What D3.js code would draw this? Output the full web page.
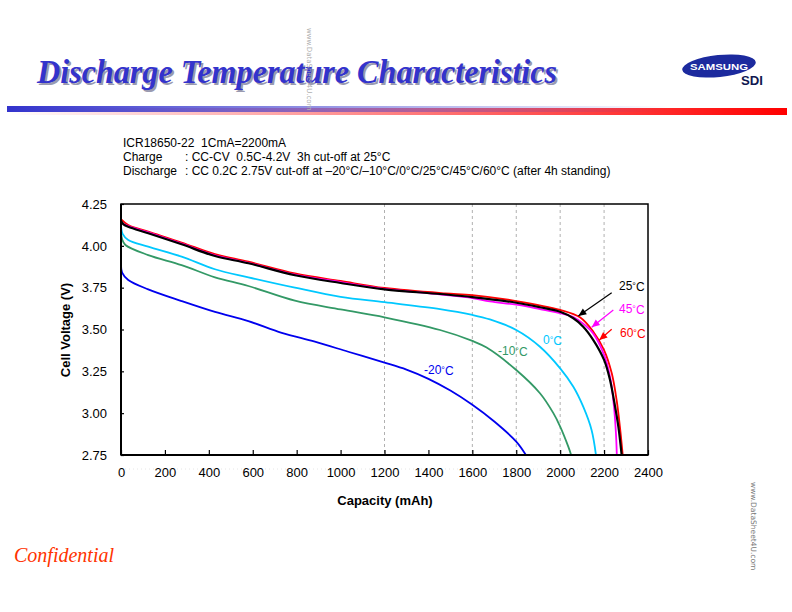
<!DOCTYPE html>
<html><head><meta charset="utf-8">
<script src="https://cdn.jsdelivr.net/npm/d3@7"></script>
<style>body{margin:0;background:#fff}svg{display:block}</style>
</head><body>
<svg id="c" width="792" height="612"></svg>
<script>
// ---- data ----
const xTicks = [0,200,400,600,800,1000,1200,1400,1600,1800,2000,2200,2400];
const yTicks = [2.75,3.00,3.25,3.50,3.75,4.00,4.25];
const gridX = [1200,1600,1800,2000,2200];
const seriesNames = ["60°C","45°C","25°C","0°C","-10°C","-20°C"];
const cap60 = [0,33,124,276,428,580,792,1000,1200,1475,1600,1800,2000,2090,2151,2200,2235,2257,2272,2285];
const v60   = [4.16,4.125,4.085,4.02,3.95,3.905,3.835,3.79,3.748,3.716,3.706,3.67,3.617,3.573,3.487,3.377,3.238,3.079,2.92,2.75];
const cap45 = [0,33,124,276,428,580,792,1000,1200,1450,1600,1680,1800,1908,2000,2060,2105,2151,2200,2227,2245,2254,2258];
const v45   = [4.14,4.118,4.08,4.013,3.943,3.898,3.828,3.783,3.743,3.71,3.688,3.668,3.648,3.622,3.598,3.575,3.535,3.475,3.348,3.218,3.04,2.88,2.75];
const cap25 = [0,10,33,124,276,428,580,792,1000,1200,1453,1600,1800,1908,2000,2060,2105,2151,2200,2227,2250,2265,2280];
const v25   = [4.15,4.13,4.114,4.075,4.009,3.939,3.896,3.824,3.778,3.74,3.712,3.694,3.66,3.633,3.606,3.567,3.517,3.437,3.318,3.198,3.04,2.92,2.75];
const cap0  = [0,8,33,124,276,428,580,792,1000,1200,1453,1600,1680,1800,1908,2000,2060,2105,2143,2163];
const v0    = [4.12,4.07,4.035,3.995,3.935,3.86,3.812,3.75,3.695,3.663,3.622,3.587,3.56,3.497,3.397,3.268,3.158,3.039,2.90,2.75];
const capM10= [0,5,20,124,276,428,580,792,1000,1200,1453,1600,1665,1800,1908,1969,2000,2037,2050];
const vM10  = [4.08,4.04,4.005,3.945,3.885,3.812,3.76,3.672,3.62,3.573,3.497,3.432,3.392,3.258,3.119,3.0,2.92,2.80,2.75];
const capM20= [0,5,33,124,276,428,580,732,883,1035,1200,1300,1400,1500,1600,1700,1800,1844];
const vM20  = [3.885,3.84,3.796,3.74,3.67,3.605,3.55,3.48,3.427,3.367,3.302,3.26,3.205,3.135,3.05,2.95,2.83,2.75];
const seriesColors = ["#ff0000","#ff00ff","#000000","#00c8ff","#339966","#0000ee"];

const svg = d3.select("#c");
const L=121,R=648,T=204,B=455;
const x = d3.scaleLinear().domain([0,2400]).range([L,R]);
const y = d3.scaleLinear().domain([2.75,4.25]).range([B,T]);

// ---- header ----
const defs = svg.append("defs");
const gb = defs.append("linearGradient").attr("id","gb");
gb.append("stop").attr("offset","0%").attr("stop-color","#3333cc");
gb.append("stop").attr("offset","85%").attr("stop-color","#3333cc").attr("stop-opacity",0);
const gr = defs.append("linearGradient").attr("id","gr");
gr.append("stop").attr("offset","0%").attr("stop-color","#ff0000").attr("stop-opacity",0);
gr.append("stop").attr("offset","100%").attr("stop-color","#ff0000");
svg.append("rect").attr("x",7).attr("y",108).attr("width",780).attr("height",7).attr("fill","url(#gr)");
svg.append("rect").attr("x",7).attr("y",106).attr("width",780).attr("height",6).attr("fill","url(#gb)");

const titleText = "Discharge Temperature Characteristics";
svg.append("text").attr("x",39).attr("y",85).attr("font-family","'Liberation Serif',serif")
  .attr("font-style","italic").attr("font-weight","bold").attr("font-size",33)
  .attr("textLength",520).attr("lengthAdjust","spacingAndGlyphs").attr("fill","#9a9ab0").text(titleText);
svg.append("text").attr("x",37).attr("y",83).attr("font-family","'Liberation Serif',serif")
  .attr("font-style","italic").attr("font-weight","bold").attr("font-size",33)
  .attr("textLength",520).attr("lengthAdjust","spacingAndGlyphs").attr("fill","#3333cc").text(titleText);

// watermark top
svg.append("text").attr("transform","translate(307,28) rotate(90)").attr("font-family","'DejaVu Sans',sans-serif")
  .attr("font-size",7).attr("fill","#b0b0b0").text("www.DataSheet4U.com");
// watermark right
svg.append("text").attr("transform","translate(751,482) rotate(90)").attr("font-family","'DejaVu Sans',sans-serif")
  .attr("font-size",7.5).attr("fill","#777").text("www.DataSheet4U.com");

// logo
svg.append("ellipse").attr("cx",719).attr("cy",66).attr("rx",37).attr("ry",11)
  .attr("transform","rotate(-6,719,66)").attr("fill","#1c2a9e");
svg.append("text").attr("x",719).attr("y",69.5).attr("text-anchor","middle").attr("font-family","'Liberation Sans',Arial,sans-serif")
  .attr("font-weight","bold").attr("font-size",9).attr("fill","#fff").attr("textLength",58).attr("lengthAdjust","spacingAndGlyphs").text("SAMSUNG");
svg.append("text").attr("x",741).attr("y",85).attr("font-family","'Liberation Sans',Arial,sans-serif")
  .attr("font-weight","bold").attr("font-size",13).attr("fill","#101850").attr("textLength",22).attr("lengthAdjust","spacingAndGlyphs").text("SDI");

// spec text (double spaces kept with no-break spaces)
const NB = "\u00a0";
const spec = svg.append("g").attr("font-family","'Liberation Sans',Arial,sans-serif").attr("font-size",12).attr("fill","#000");
spec.append("text").attr("x",123).attr("y",147).text("ICR18650-22"+NB+" 1CmA=2200mA");
spec.append("text").attr("x",123).attr("y",161).text("Charge");
spec.append("text").attr("x",185).attr("y",161).text(": CC-CV"+NB+" 0.5C-4.2V"+NB+" 3h cut-off at 25°C");
spec.append("text").attr("x",123).attr("y",175).text("Discharge");
spec.append("text").attr("x",185).attr("y",175).text(": CC 0.2C 2.75V cut-off at \u201320°C/\u201310°C/0°C/25°C/45°C/60°C (after 4h standing)");

// ---- chart ----
const g = svg.append("g");
g.selectAll("line.grid").data(gridX).join("line").attr("class","grid")
  .attr("x1",d=>x(d)).attr("x2",d=>x(d)).attr("y1",T).attr("y2",B)
  .attr("stroke","#b0b0b0").attr("stroke-width",1).attr("stroke-dasharray","3,3");
g.append("line").attr("x1",L).attr("x2",R).attr("y1",469).attr("y2",469)
  .attr("stroke","#e6e6e6").attr("stroke-dasharray","1,3");

const allCaps = [cap60,cap45,cap25,cap0,capM10,capM20];
const allV = [v60,v45,v25,v0,vM10,vM20];
const series = seriesNames.map((n,i)=>({name:n,color:seriesColors[i],pts:allCaps[i].map((c,j)=>[c,allV[i][j]])}));
const line = d3.line().x(d=>x(d[0])).y(d=>y(d[1])).curve(d3.curveCatmullRom.alpha(0.5));
const drawOrder = [5,4,3,0,1,2];
drawOrder.forEach(i=>{
  const s = series[i];
  g.append("path").attr("d",line(s.pts)).attr("fill","none").attr("stroke",s.color)
    .attr("stroke-width", i===2?2.2:1.8).attr("stroke-linejoin","round");
});

// frame
g.append("rect").attr("x",L).attr("y",T).attr("width",R-L).attr("height",B-T).attr("fill","none").attr("stroke","#000").attr("stroke-width",1.5);
g.append("line").attr("x1",L).attr("x2",L).attr("y1",T).attr("y2",B).attr("stroke","#000").attr("stroke-width",2);
g.append("line").attr("x1",L).attr("x2",R).attr("y1",B).attr("y2",B).attr("stroke","#000").attr("stroke-width",2);

// axes
const xa = d3.axisBottom(x).tickValues(xTicks).tickSize(-5).tickPadding(13).tickFormat(d3.format("d"));
const gx = svg.append("g").attr("transform",`translate(0,${B})`).call(xa);
gx.select(".domain").remove();
gx.selectAll("line").attr("stroke","#000").attr("stroke-width",1.2);
gx.selectAll("text").attr("font-family","'Liberation Sans',Arial,sans-serif").attr("font-size",13).attr("fill","#000");
const ya = d3.axisLeft(y).tickValues(yTicks).tickSize(-3).tickPadding(14).tickFormat(d3.format(".2f"));
const gy = svg.append("g").attr("transform",`translate(${L},0)`).call(ya);
gy.select(".domain").remove();
gy.selectAll("line").attr("stroke","#000").attr("stroke-width",1.2);
gy.selectAll("text").attr("font-family","'Liberation Sans',Arial,sans-serif").attr("font-size",13).attr("fill","#000");

svg.append("text").attr("x",385).attr("y",505).attr("text-anchor","middle").attr("font-family","'Liberation Sans',Arial,sans-serif")
  .attr("font-weight","bold").attr("font-size",13).text("Capacity (mAh)");
svg.append("text").attr("transform","translate(70,330) rotate(-90)").attr("text-anchor","middle").attr("font-family","'Liberation Sans',Arial,sans-serif")
  .attr("font-weight","bold").attr("font-size",13).text("Cell Voltage (V)");

// series labels
const lab = svg.append("g").attr("font-family","'Liberation Sans',Arial,sans-serif").attr("font-size",12);
const labelPos = [[620,337],[619,313],[619,290],[543,344],[498,355],[424,374]];
series.forEach((s,i)=>{
  const num = s.name.replace("°C","");
  const t = lab.append("text").attr("x",labelPos[i][0]).attr("y",labelPos[i][1]).attr("fill",s.color);
  t.append("tspan").text(num);
  t.append("tspan").attr("font-size",9).attr("dy",-1).text("°");
  t.append("tspan").attr("dy",2).text("C");
});
const arrows = [[0,611.7,329.3,599.3,340],[1,613.3,310,591.7,327.3],[2,611.7,292.7,578.3,316]];
arrows.forEach(a=>{
  const c = series[a[0]].color;
  const [x1,y1,x2,y2] = a.slice(1);
  svg.append("line").attr("x1",x1).attr("y1",y1).attr("x2",x2).attr("y2",y2).attr("stroke",c).attr("stroke-width",1.2);
  const ang = Math.atan2(y2-y1,x2-x1), len=8, w=3.5;
  const bx = x2-len*Math.cos(ang), by = y2-len*Math.sin(ang);
  const px = -Math.sin(ang)*w, py = Math.cos(ang)*w;
  svg.append("path").attr("d",`M${x2},${y2}L${bx+px},${by+py}L${bx-px},${by-py}Z`).attr("fill",c);
});

svg.append("text").attr("x",14).attr("y",562).attr("font-family","'Liberation Serif',serif").attr("font-style","italic")
  .attr("font-size",20).attr("fill","#ff3300").text("Confidential");
</script>
</body></html>
